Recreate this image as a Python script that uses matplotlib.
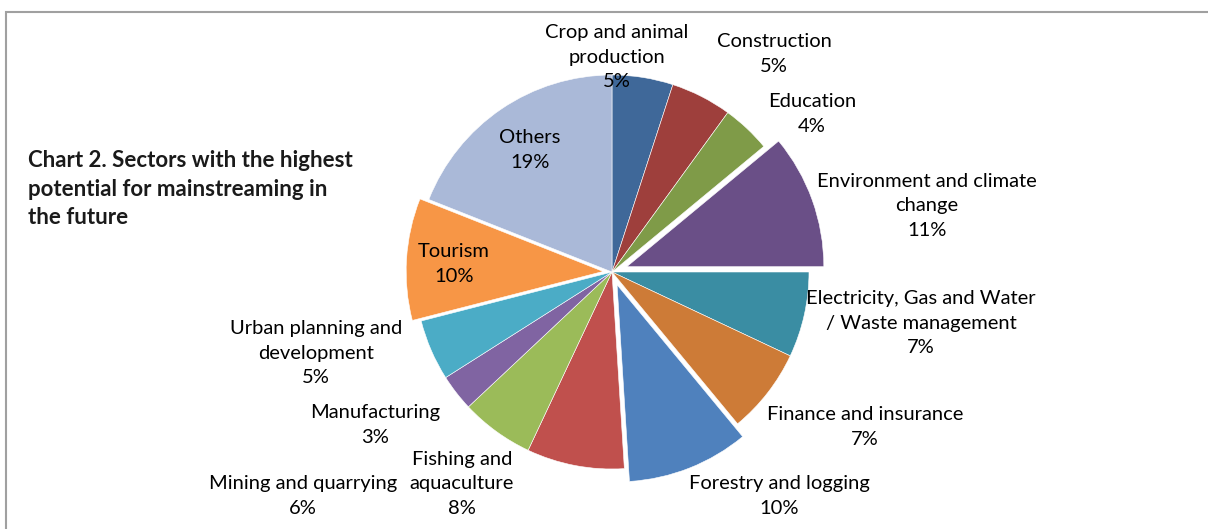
import matplotlib
matplotlib.use("Agg")
import matplotlib.pyplot as plt
from matplotlib.patches import Rectangle

# ---- data ----
sectors = ["Crop and animal\nproduction", "Construction", "Education",
           "Environment and climate\nchange", "Electricity, Gas and Water\n/ Waste management",
           "Finance and insurance", "Forestry and logging", "Fishing and\naquaculture",
           "Mining and quarrying", "Manufacturing", "Urban planning and\ndevelopment",
           "Tourism", "Others"]
shares = [5, 5, 4, 11, 7, 7, 10, 8, 6, 3, 5, 10, 19]
explode = [0, 0, 0, 0.08, 0, 0, 0.07, 0, 0, 0, 0, 0.045, 0]
colors = ["#3F6899", "#9E3F3C", "#7F9B48", "#6A4F87", "#3A8DA3", "#CD7B37",
          "#4F81BD", "#C0504D", "#9BBB59", "#8064A2", "#4BACC6", "#F79646", "#AAB9D8"]
title = "Chart 2. Sectors with the highest\npotential for mainstreaming in\nthe future"

# ---- layout (pixel positions, top-left origin) ----
W, H = 1208, 529
R = 197
label_pos = [(617, 57), (774, 54), (812, 114), (927, 206), (921, 323), (865, 427),
             (779, 496), (462, 484), (303, 496), (375, 425), (316, 353), (454, 264),
             (530, 150)]

plt.rcParams['font.family'] = ['Lato', 'DejaVu Sans']
fig = plt.figure(figsize=(W / 100, H / 100), dpi=100)
ax = fig.add_axes([0, 0, 1, 1])

ax.pie(shares, explode=[e * R for e in explode], colors=colors, startangle=90,
       counterclock=False, center=(612, H - 272), radius=R, frame=True,
       wedgeprops=dict(edgecolor='white', linewidth=0.4))
ax.set_xlim(0, W)
ax.set_ylim(0, H)
ax.set_aspect('equal')
ax.axis('off')

for name, val, (x, y) in zip(sectors, shares, label_pos):
    ax.text(x, H - y, f"{name}\n{val}%", ha='center', va='center', fontsize=14.5,
            color='black', linespacing=1.57)

ax.text(28, H - 189, title, ha='left', va='center', fontsize=16, fontweight='bold',
        color='#1a1a1a', linespacing=1.42)

ax.add_patch(Rectangle((6, -20), W + 20, H - 12 + 20, fill=False, edgecolor='#A0A0A0',
                       linewidth=1.5, clip_on=False))

fig.savefig("out.png", dpi=100)
